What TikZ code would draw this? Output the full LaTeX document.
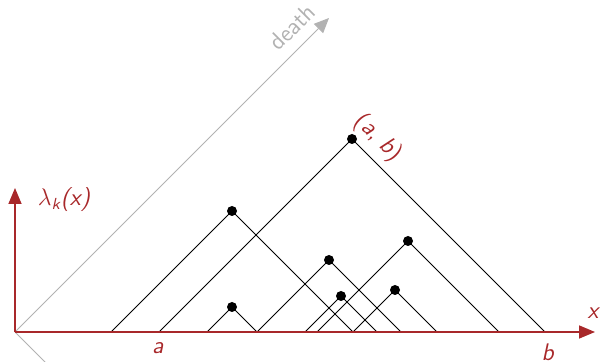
\documentclass[tikz,border=0pt]{standalone}
\usetikzlibrary{arrows.meta}
\definecolor{axisred}{RGB}{168,40,42}
\definecolor{diaggray}{RGB}{178,178,178}
\begin{document}
\begin{tikzpicture}[
  x=0.5pt, y=0.5pt,
  every node/.style={font=\fontsize{12}{14}\selectfont\sffamily, inner sep=1pt},
  pt/.style={circle, fill=black, inner sep=0pt, minimum size=5pt},
  tent/.style={black, line width=0.45pt},
  axis/.style={axisred, line width=0.8pt, -{Triangle[length=8pt,width=6.5pt]}},
  lbl/.style={text=axisred}
]
  \useasboundingbox (-15,-30) rectangle (588,332);
  \clip (-15,-30) rectangle (588,332);

  % Diagonal (birth, death) axes
  \coordinate (o) at (0,0);
  \coordinate (dtip) at (314,314);
  \coordinate (btip) at (40,-40);
  \draw[diaggray, line width=0.5pt, -{Triangle[length=7.5pt,width=6.5pt]}] (o) -- (dtip);
  \draw[diaggray, line width=0.5pt] (o) -- (btip);
  \node[text=diaggray, rotate=45] (death) at (277,305) {death};

  % Axes
  \coordinate (xtip) at (580,0);
  \coordinate (ytip) at (0,144);
  \draw[axis] (o) -- (xtip);
  \draw[axis] (o) -- (ytip);
  \node[lbl] (ylab) at (49,132) {$\lambda$\textit{\textsubscript{k}(x)}};
  \node[lbl] (xlab) at (579,19) {\textit{x}};
  \node[lbl] (alab) at (143,-16) {\textit{a}};
  \node[lbl] (blab) at (533,-20) {\textit{b}};

  % Points of the diagram
  \node[pt] (ab) at (337,193) {};
  \node[pt] (p1) at (217,121) {};
  \node[pt] (p2) at (314,72) {};
  \node[pt] (p3) at (393,91) {};
  \node[pt] (p4) at (217,25) {};
  \node[pt] (p5) at (326,36) {};
  \node[pt] (p6) at (380,42) {};
  \node[lbl, rotate=-45] (ablab) at (363,194) {(\textit{a}, \textit{b})};

  % Feet on the x axis
  \coordinate (abl) at (144,0);  \coordinate (abr) at (530,0);
  \coordinate (p1l) at (96,0);   \coordinate (p1r) at (338,0);
  \coordinate (p2l) at (242,0);  \coordinate (p2r) at (386,0);
  \coordinate (p3l) at (302,0);  \coordinate (p3r) at (484,0);
  \coordinate (p4l) at (192,0);  \coordinate (p4r) at (242,0);
  \coordinate (p5l) at (290,0);  \coordinate (p5r) at (362,0);
  \coordinate (p6l) at (338,0);  \coordinate (p6r) at (422,0);

  % Tents
  \draw[tent] (abl) -- (ab.center) -- (abr);
  \draw[tent] (p1l) -- (p1.center) -- (p1r);
  \draw[tent] (p2l) -- (p2.center) -- (p2r);
  \draw[tent] (p3l) -- (p3.center) -- (p3r);
  \draw[tent] (p4l) -- (p4.center) -- (p4r);
  \draw[tent] (p5l) -- (p5.center) -- (p5r);
  \draw[tent] (p6l) -- (p6.center) -- (p6r);

  % redraw x axis on top
  \draw[axisred, line width=0.8pt] (o) -- (570,0);
\end{tikzpicture}
\end{document}
